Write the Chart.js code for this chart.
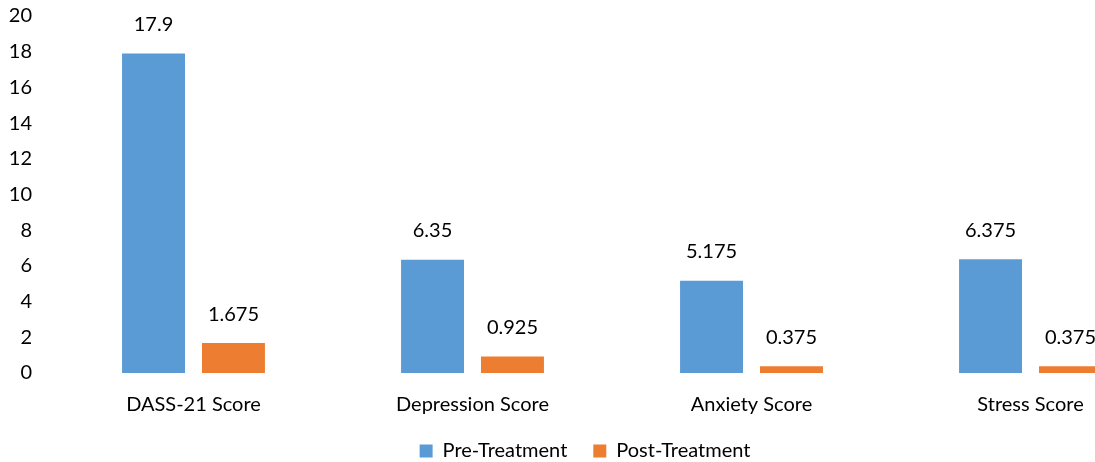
<!DOCTYPE html>
<html lang="en">
<head>
<meta charset="UTF-8">
<title>DASS-21 scores</title>
<script src="https://cdn.jsdelivr.net/npm/chart.js@4.4.1/dist/chart.umd.min.js"></script>
<style>
  body { margin: 0; overflow: hidden; background: #fff; }
  #wrap { width: 1200px; height: 462px; }
</style>
</head>
<body>
<div id="wrap"><canvas id="scoreChart"></canvas></div>
<script>
var categories = ['DASS-21 Score', 'Depression Score', 'Anxiety Score', 'Stress Score'];
var preTreatment = [17.9, 6.35, 5.175, 6.375];
var postTreatment = [1.675, 0.925, 0.375, 0.375];
var yTicks = [0, 2, 4, 6, 8, 10, 12, 14, 16, 18, 20];

var fontFamily = 'Lato, "Open Sans", sans-serif';

// value labels above each bar
var barValues = {
  id: 'barValues',
  afterDatasetsDraw: function(chart) {
    var ctx = chart.ctx;
    ctx.save();
    ctx.font = '20px ' + fontFamily;
    ctx.fillStyle = '#000';
    ctx.textAlign = 'center';
    ctx.textBaseline = 'middle';
    chart.data.datasets.forEach(function(ds, i) {
      chart.getDatasetMeta(i).data.forEach(function(bar, j) {
        ctx.fillText(String(ds.data[j]), bar.x, bar.y - 29);
      });
    });
    ctx.restore();
  }
};

window.onload = function() {
  var ctx = document.getElementById('scoreChart').getContext('2d');
  window.myChart = new Chart(ctx, {
    type: 'bar',
    data: {
      labels: categories,
      datasets: [
        { label: 'Pre-Treatment', data: preTreatment, backgroundColor: '#5B9BD5' },
        { label: 'Post-Treatment', data: postTreatment, backgroundColor: '#ED7D31' }
      ]
    },
    options: {
      responsive: true,
      maintainAspectRatio: false,
      animation: false,
      categoryPercentage: 0.573,
      barPercentage: 0.7875,
      layout: { padding: { left: 0, right: 30, top: 16, bottom: -9 } },
      scales: {
        x: {
          grid: { display: false, drawTicks: false },
          border: { display: false },
          ticks: { color: '#000', font: { family: fontFamily, size: 20 }, padding: 20 },
          afterFit: function(axis) { axis.height = 42; }
        },
        y: {
          min: 0,
          max: 20,
          afterBuildTicks: function(axis) {
            axis.ticks = yTicks.map(function(v) { return { value: v }; });
          },
          grid: { display: false, drawTicks: false },
          border: { display: false },
          ticks: { color: '#000', font: { family: fontFamily, size: 20 }, padding: 22 },
          afterFit: function(axis) {
            axis.width = 54;
            axis.paddingTop = 0;
            axis.paddingBottom = 0;
          }
        }
      },
      plugins: {
        tooltip: { enabled: false },
        legend: {
          position: 'bottom',
          labels: {
            color: '#000',
            font: { family: fontFamily, size: 20 },
            boxWidth: 13,
            boxHeight: 13,
            padding: 26
          }
        }
      }
    },
    plugins: [barValues]
  });
};
</script>
</body>
</html>
